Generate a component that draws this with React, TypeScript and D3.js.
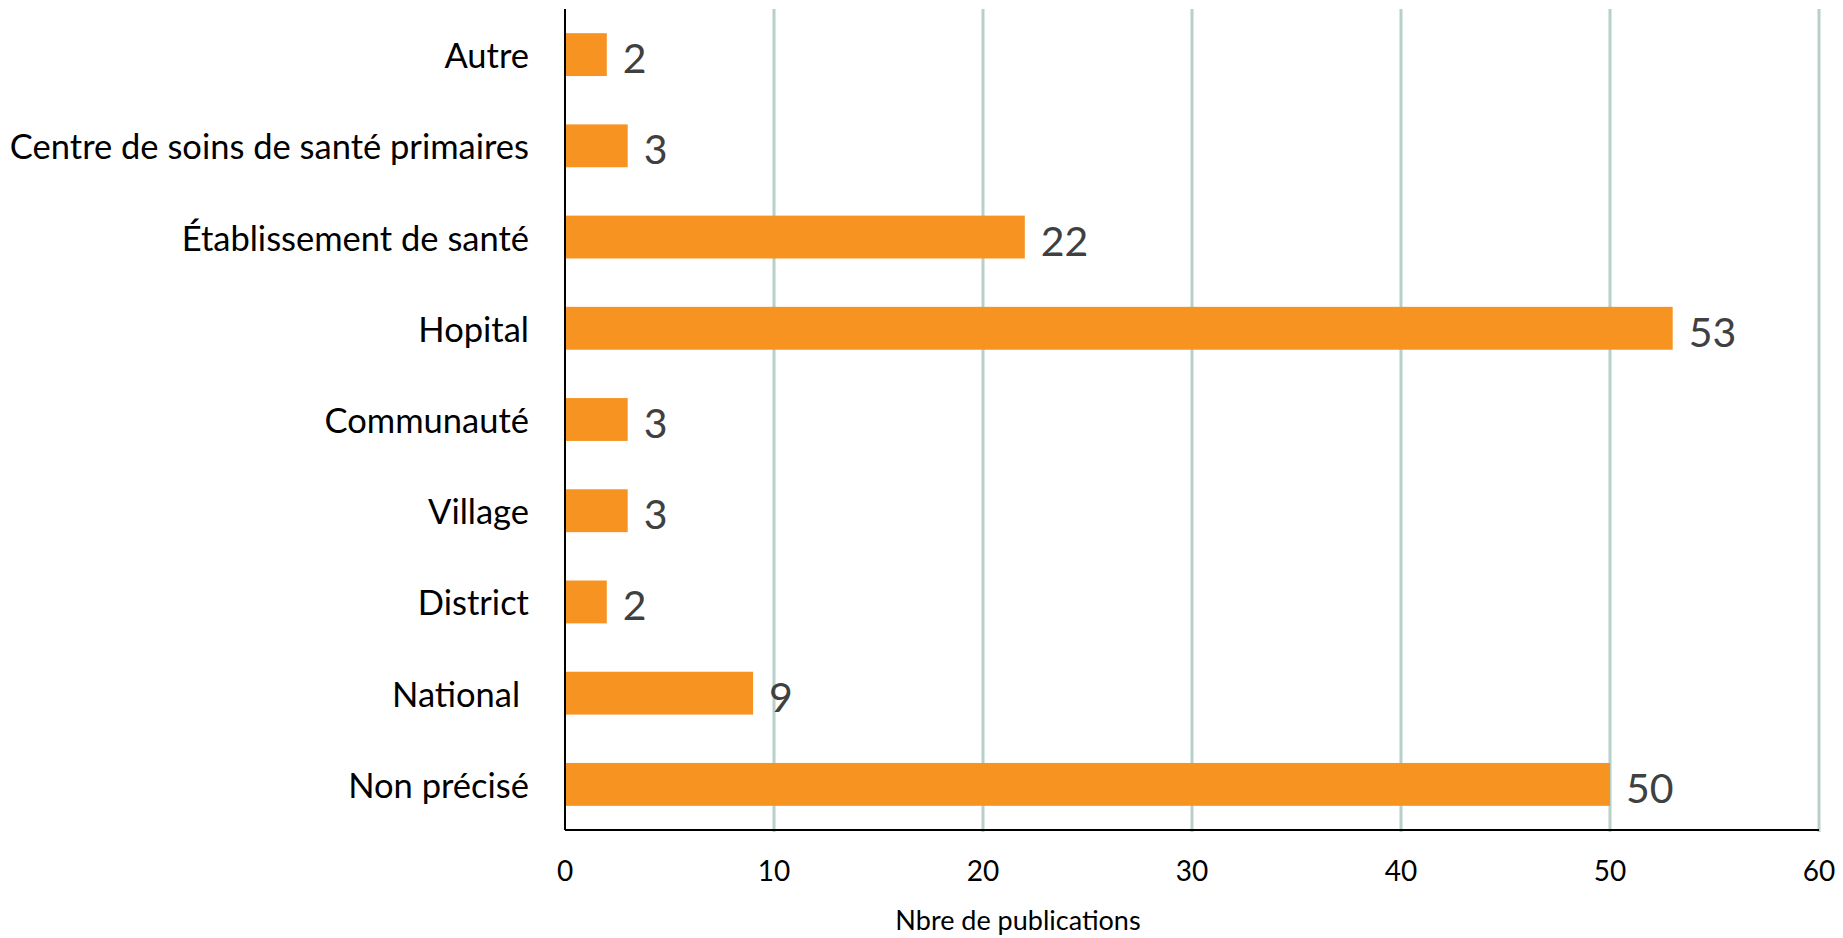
import React from "react";
import * as d3 from "d3";

const categories = [
  "Autre",
  "Centre de soins de santé primaires",
  "Établissement de santé",
  "Hopital",
  "Communauté",
  "Village",
  "District",
  "National\u00a0",
  "Non précisé",
];
const values = [2, 3, 22, 53, 3, 3, 2, 9, 50];
const xTicks = [0, 10, 20, 30, 40, 50, 60];
const xTitle = "Nbre de publications";

const W = 1843;
const H = 938;
const M = { left: 565, right: 1819, top: 9, bottom: 830 };
const FONT = "Lato, 'Open Sans', sans-serif";

export default function App() {
  const x = d3.scaleLinear().domain([0, 60]).range([M.left, M.right]);
  const y = d3
    .scaleBand<string>()
    .domain(categories)
    .range([M.top, M.bottom])
    .paddingInner(0.53)
    .paddingOuter(0.265);
  const bw = y.bandwidth();

  return (
    <svg
      width={W}
      height={H}
      style={{ position: "absolute", left: 0, top: 0, display: "block", background: "#fff" }}
    >
      {xTicks
        .filter((t) => t !== 0)
        .map((t) => (
          <line
            key={"g" + t}
            x1={x(t)}
            x2={x(t)}
            y1={M.top}
            y2={M.bottom + 2}
            stroke="#B7D0C9"
            strokeWidth={3}
          />
        ))}
      {categories.map((c, i) => (
        <rect
          key={"b" + c}
          x={x(0)}
          y={y(c)!}
          width={x(values[i]) - x(0)}
          height={bw}
          fill="#F69321"
        />
      ))}
      <line x1={x(0)} x2={x(0)} y1={M.top} y2={M.bottom} stroke="#000" strokeWidth={2} />
      <line x1={x(0)} x2={x(60)} y1={M.bottom} y2={M.bottom} stroke="#000" strokeWidth={2} />
      {categories.map((c, i) => (
        <text
          key={"l" + c}
          x={529}
          y={y(c)! + bw / 2}
          textAnchor="end"
          dominantBaseline="central"
          fontFamily={FONT}
          fontSize={34.5}
          fill="#000"
        >
          {c}
        </text>
      ))}
      {categories.map((c, i) => (
        <text
          key={"v" + c}
          x={x(values[i]) + 16}
          y={y(c)! + bw / 2 + 3}
          textAnchor="start"
          dominantBaseline="central"
          fontFamily={FONT}
          fontSize={41}
          fill="#404040"
        >
          {values[i]}
        </text>
      ))}
      {xTicks.map((t) => (
        <text
          key={"t" + t}
          x={x(t)}
          y={870}
          textAnchor="middle"
          dominantBaseline="central"
          fontFamily={FONT}
          fontSize={28}
          fill="#000"
        >
          {t}
        </text>
      ))}
      <text
        x={1018}
        y={919}
        textAnchor="middle"
        dominantBaseline="central"
        fontFamily={FONT}
        fontSize={27}
        fill="#000"
      >
        {xTitle}
      </text>
    </svg>
  );
}
